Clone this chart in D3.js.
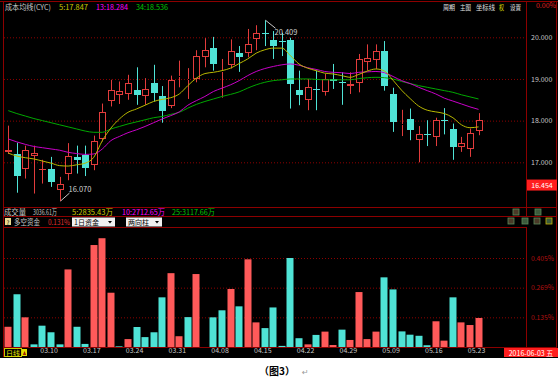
<!DOCTYPE html>
<html>
<head>
<meta charset="utf-8">
<script src="https://cdn.jsdelivr.net/npm/d3@7/dist/d3.min.js"></script>
<style>
  body { margin: 0; background: #fff; }
  svg text { font-family: "Noto Sans CJK SC", "DejaVu Sans", sans-serif; }
</style>
</head>
<body>
<svg id="chart" width="558" height="387"></svg>
<script>
// daily candles
var opens  = [17.25,17.21,16.85,17.15,16.83,16.85,16.33,16.73,17.13,17.18,16.93,17.56,18.46,18.62,18.63,18.74,18.58,18.90,18.59,18.35,
              19.05,18.97,19.00,19.52,19.74,19.16,19.33,19.63,19.63,19.95,20.11,19.94,19.90,19.94,18.74,18.50,18.75,18.68,19.00,18.93,
              18.82,18.90,19.41,19.46,19.67,18.63,17.89,18.03,17.53,17.67,17.60,18.02,17.81,17.37,17.32,17.75];
var highs  = [17.88,17.47,17.40,17.40,17.06,17.13,16.65,17.46,17.40,17.40,17.64,18.41,18.98,18.94,19.10,19.28,19.02,19.34,18.83,19.08,
              19.44,19.26,19.69,19.98,20.01,19.48,19.95,19.79,20.20,20.29,20.409,20.15,20.11,19.99,19.20,19.00,19.20,19.12,19.36,19.16,
              19.16,19.60,19.83,19.83,19.91,18.79,18.26,18.29,17.87,18.01,18.07,18.30,17.93,17.61,17.81,18.18];
var lows   = [17.20,16.27,16.61,16.25,16.49,16.41,16.07,16.57,16.73,16.67,16.81,17.50,18.34,18.40,18.50,18.38,18.38,18.46,17.95,18.30,
              18.80,18.52,18.92,19.28,19.20,18.55,19.25,19.17,19.52,19.69,19.79,19.48,19.55,18.29,18.37,18.25,18.25,18.60,18.76,18.38,
              18.64,18.68,19.20,19.24,18.72,17.73,17.63,17.53,17.00,17.39,17.39,17.67,17.06,17.25,17.13,17.65];
var closes = [17.30,16.67,17.29,17.23,16.84,16.52,16.49,17.15,17.05,16.87,17.50,18.20,18.74,18.70,18.91,18.62,18.75,18.67,18.24,18.98,
              19.07,18.99,19.54,19.69,19.36,19.18,19.66,19.53,19.83,20.10,20.09,19.78,19.88,18.87,18.62,18.80,18.73,19.00,18.94,18.91,
              18.88,19.48,19.50,19.66,18.82,17.96,17.91,17.77,17.69,17.65,18.01,18.00,17.37,17.47,17.71,18.02];

// cost moving averages (成本均线) 5 / 13 / 34
var ma5  = [17.22,17.15,17.11,17.08,17.03,16.98,16.92,16.91,16.94,16.98,17.12,17.52,17.82,18.04,18.20,18.28,18.37,18.46,18.51,18.55,
            18.64,18.84,19.02,19.13,19.16,19.20,19.26,19.37,19.48,19.62,19.70,19.74,19.74,19.56,19.36,19.26,19.20,19.14,19.12,19.08,
            19.04,19.11,19.19,19.24,19.19,18.97,18.73,18.53,18.35,18.25,18.21,18.17,18.07,17.90,17.83,17.85];
var ma13 = [17.56,17.49,17.43,17.38,17.35,17.32,17.29,17.24,17.21,17.19,17.20,17.32,17.52,17.62,17.71,17.78,17.86,17.95,18.04,18.12,
            18.21,18.37,18.48,18.58,18.70,18.78,18.86,18.96,19.08,19.18,19.25,19.30,19.34,19.36,19.33,19.27,19.23,19.18,19.16,19.15,
            19.13,19.16,19.17,19.18,19.15,19.06,18.96,18.89,18.80,18.72,18.64,18.54,18.47,18.40,18.33,18.27];
var ma34 = [18.24,18.17,18.11,18.05,18.00,17.95,17.90,17.85,17.80,17.75,17.72,17.72,17.80,17.86,17.92,17.97,18.02,18.07,18.10,18.15,
            18.20,18.30,18.39,18.46,18.52,18.58,18.63,18.69,18.78,18.86,18.92,18.96,18.98,19.00,19.00,19.00,18.99,18.98,18.98,18.98,
            18.98,19.01,19.03,19.04,19.03,19.00,18.94,18.89,18.84,18.80,18.76,18.72,18.68,18.62,18.57,18.52];

// 多空资金 bars (%), 1 = red (多), 0 = cyan (空)
var fundValues = [0.092,0.240,0.135,0.012,0.097,0.067,0.012,0.353,0.092,0.014,0.464,0.495,0.247,0.003,0.036,0.091,0.045,0.067,0.226,0.336,
                  0.049,0.136,0.332,0.000,0.135,0.167,0.264,0.185,0.399,0.112,0.086,0.180,0.005,0.405,0.040,0.012,0.055,0.070,0.009,0.079,
                  0.032,0.250,0.036,0.070,0.317,0.262,0.071,0.056,0.051,0.008,0.117,0.029,0.226,0.112,0.100,0.132];
var fundSide   = [1,0,1,0,0,0,0,1,0,0,1,1,1,0,1,0,0,0,0,1,
                  1,0,1,0,0,0,1,0,1,1,0,0,0,0,0,1,0,1,1,0,
                  1,1,1,1,0,0,0,0,0,0,1,1,0,1,1,1];

var dateLabels = ["03.10","03.17","03.24","03.31","04.08","04.15","04.22","04.29","05.09","05.16","05.23"];
var dateIndex  = [5,10,15,20,25,30,35,40,45,50,55];
var priceTicks = [17, 18, 19, 20];
var fundTicks  = [0.135, 0.27, 0.405];
var fundTickLabels = ["0.135%", "0.269%", "0.405%"];
var lastPrice = 16.454;

// header readouts: [text, x, width, colour]
var titleItems = [["成本均线(CYC)", 5, 46, "#c8c8c8"], ["5:17.847", 59, 29, "#c8c800"],
                  ["13:18.284", 96, 32, "#ff00ff"], ["34:18.536", 136, 32, "#00c800"]];
var menuItems  = [["周期", 443, 12, "#e0e0e0"], ["主图", 460, 11, "#e0e0e0"], ["坐标线", 476, 19, "#e0e0e0"],
                  ["权", 499, 5, "#e0e000"], ["设置", 510, 11, "#e0e0e0"]];
var volItems   = [["成交量", 4, 22, "#c8c8c8"], ["3036.61万", 33, 24, "#c8c8c8"], ["5:2835.43万", 72, 41, "#c8c800"],
                  ["10:2712.65万", 122, 43, "#ff00ff"], ["25:3117.66万", 172, 43, "#00c800"]];

var RED = "#e23c3c", REDBAR = "#ff5a5a", CYAN = "#4fe3d6", FRAME = "#8c0000";

var svg = d3.select("#chart");

svg.append("rect").attr("x", 0).attr("y", 0).attr("width", 558).attr("height", 358).attr("fill", "#000");

var idx = d3.range(opens.length);
var x = d3.scaleBand().domain(idx).range([4, 4 + 8.55 * idx.length]).padding(0);
function xc(i) { return Math.round(x(i) + x.bandwidth() / 2); }

var y = d3.scaleLinear().domain([17, 20]).range([162.3, 37.3]);
var yf = d3.scaleLinear().domain([0, 0.405]).range([347, 258]);

// ---- grid + axes (main) ----
var gridMain = svg.append("g").attr("transform", "translate(4,0)")
  .call(d3.axisLeft(y).tickValues(priceTicks).tickSize(-522).tickFormat(""));
gridMain.select(".domain").remove();
gridMain.selectAll("line").attr("stroke", FRAME).attr("stroke-dasharray", "1,2");

var pAxis = svg.append("g").attr("transform", "translate(531,0)")
  .call(d3.axisRight(y).tickValues(priceTicks).tickSize(0).tickFormat(d3.format(".3f")));
pAxis.select(".domain").remove();
pAxis.selectAll("text").attr("fill", "#c8c8c8").attr("font-size", 7).attr("x", 0);

// ---- grid + axes (fund panel) ----
var gridF = svg.append("g").attr("transform", "translate(4,0)")
  .call(d3.axisLeft(yf).tickValues(fundTicks).tickSize(-522).tickFormat(""));
gridF.select(".domain").remove();
gridF.selectAll("line").attr("stroke", FRAME).attr("stroke-dasharray", "1,2");

var fAxis = svg.append("g").attr("transform", "translate(531,0)")
  .call(d3.axisRight(yf).tickValues(fundTicks).tickSize(0).tickFormat(function(d, i) { return fundTickLabels[i]; }));
fAxis.select(".domain").remove();
fAxis.selectAll("text").attr("fill", "#b01010").attr("font-size", 7).attr("x", 0)
  .attr("textLength", 23).attr("lengthAdjust", "spacingAndGlyphs");

// ---- candles ----
svg.append("clipPath").attr("id", "mainclip").append("rect")
  .attr("x", 4).attr("y", 2).attr("width", 522).attr("height", 205);
var cg = svg.append("g").attr("clip-path", "url(#mainclip)");

idx.forEach(function(i) {
  var o = opens[i], c = closes[i], up = c >= o;
  var col = up ? RED : CYAN;
  var cx = xc(i) + 0.5;
  var top = Math.round(y(Math.max(o, c))), bot = Math.round(y(Math.min(o, c)));
  var hi = y(highs[i]), lo = y(lows[i]);
  if (bot - top < 1) {
    cg.append("line").attr("x1", cx).attr("x2", cx).attr("y1", hi).attr("y2", lo).attr("stroke", col);
    cg.append("line").attr("x1", cx - 3.5).attr("x2", cx + 3.5).attr("y1", top + 0.5).attr("y2", top + 0.5).attr("stroke", col);
    return;
  }
  cg.append("line").attr("x1", cx).attr("x2", cx).attr("y1", hi).attr("y2", top).attr("stroke", col);
  cg.append("line").attr("x1", cx).attr("x2", cx).attr("y1", bot).attr("y2", lo).attr("stroke", col);
  if (up) {
    cg.append("rect").attr("x", cx - 3).attr("y", top + 0.5).attr("width", 6).attr("height", bot - top - 1)
      .attr("fill", "#000").attr("stroke", col);
  } else {
    cg.append("rect").attr("x", cx - 3.5).attr("y", top).attr("width", 7).attr("height", bot - top).attr("fill", col);
  }
});

// ---- moving averages ----
var line = d3.line().x(function(d, i) { return x(i) + x.bandwidth() / 2; }).y(function(d) { return y(d); })
  .curve(d3.curveMonotoneX);
[[ma34, "#00a800"], [ma13, "#c800c8"], [ma5, "#b8b800"]].forEach(function(s) {
  cg.append("path").attr("d", line(s[0])).attr("fill", "none").attr("stroke", s[1]).attr("stroke-width", 1);
});

// high / low markers
var hiI = d3.maxIndex(highs), loI = d3.minIndex(lows);
var hx = xc(hiI) + 0.5, hy = y(highs[hiI]);
svg.append("line").attr("x1", hx).attr("y1", hy).attr("x2", hx + 10).attr("y2", hy + 8).attr("stroke", "#c8c8c8");
svg.append("text").attr("x", hx + 9).attr("y", hy + 14.5).attr("fill", "#d0d0d0").attr("font-size", 7.5)
  .text(d3.format(".3f")(highs[hiI]));
var lx = xc(loI) + 0.5, ly = y(lows[loI]);
svg.append("line").attr("x1", lx).attr("y1", ly).attr("x2", lx + 9).attr("y2", ly - 8).attr("stroke", "#c8c8c8");
svg.append("text").attr("x", lx + 8).attr("y", ly - 9).attr("fill", "#d0d0d0").attr("font-size", 7.5)
  .text(d3.format(".3f")(lows[loI]));

// ---- fund bars ----
svg.append("g").selectAll("rect").data(fundValues).enter().append("rect")
  .attr("x", function(d, i) { return xc(i) - 3.5; })
  .attr("width", 7)
  .attr("y", function(d) { return yf(d); })
  .attr("height", function(d) { return yf(0) - yf(d); })
  .attr("fill", function(d, i) { return fundSide[i] ? REDBAR : CYAN; });

// ---- frame lines ----
function hline(x1, x2, yy) { svg.append("line").attr("x1", x1).attr("x2", x2).attr("y1", yy).attr("y2", yy).attr("stroke", FRAME); }
function vline(xx, y1, y2) { svg.append("line").attr("x1", xx).attr("x2", xx).attr("y1", y1).attr("y2", y2).attr("stroke", FRAME); }
hline(0, 558, 1.5);
vline(3.5, 1, 357);
vline(556.5, 1, 357);
vline(526.5, 1, 216);
vline(526.5, 227, 347);
hline(3, 557, 207.5);
hline(3, 557, 216.5);
hline(3, 526, 227.5);
hline(3, 557, 347.5);

// date axis
var dAxis = svg.append("g").attr("transform", "translate(0,348)")
  .call(d3.axisBottom(x).tickValues(dateIndex).tickSize(0).tickFormat(function(d, i) { return dateLabels[i]; }));
dAxis.select(".domain").remove();
dAxis.selectAll("text").attr("fill", "#c8c8c8").attr("font-size", 7).attr("dy", "0.55em").attr("y", 1.5)
  .attr("dx", -2);

// ---- header texts ----
function txt(xx, yy, s, col, size, anchor) {
  return svg.append("text").attr("x", xx).attr("y", yy).attr("fill", col).attr("font-size", size || 7.5)
    .attr("text-anchor", anchor || "start").text(s);
}
function fitted(items, yy, size) {
  items.forEach(function(t) {
    txt(t[1], yy, t[0], t[3], size).attr("textLength", t[2]).attr("lengthAdjust", "spacingAndGlyphs");
  });
}
fitted(titleItems, 10, 7.5);
fitted(menuItems, 10, 6.5);
fitted(volItems, 215, 7.5);
txt(556, 8, "0.00%", "#e02020", 7, "end");

// last price box
svg.append("rect").attr("x", 527).attr("y", y(lastPrice) - 5.5).attr("width", 30).attr("height", 11).attr("fill", "#ff1e1e");
txt(542, y(lastPrice) + 3, lastPrice.toFixed(3), "#fff", 7, "middle");

// fund row
svg.append("rect").attr("x", 5).attr("y", 218).attr("width", 6).attr("height", 7).attr("fill", "#e8d890");
txt(8, 224.5, "?", "#000", 6, "middle");
txt(14, 225, "多空资金", "#c8c8c8").attr("textLength", 26).attr("lengthAdjust", "spacingAndGlyphs");
txt(48, 225, "0.131%", "#e03030").attr("textLength", 22).attr("lengthAdjust", "spacingAndGlyphs");
[[72, 43, "1日资金"], [126, 36, "两向柱"]].forEach(function(b) {
  svg.append("rect").attr("x", b[0]).attr("y", 217.5).attr("width", b[1]).attr("height", 9).attr("fill", "#f0f0f0");
  txt(b[0] + 2, 225, b[2], "#000", 7);
  svg.append("path").attr("d", "M" + (b[0] + b[1] - 7) + ",221 l4,0 l-2,2.5 z").attr("fill", "#000");
});

// small toolbar icons
[[513, 209], [535, 209], [508, 218], [522, 218], [534, 218], [546, 218]].forEach(function(p, k) {
  svg.append("rect").attr("x", p[0]).attr("y", p[1]).attr("width", 6).attr("height", 6)
    .attr("fill", k % 2 ? "#3c5a3c" : "#4a3a28").attr("stroke", k === 5 ? "#c8b400" : "#5a8a5a").attr("stroke-width", 0.8);
});

// bottom left 日线 label
svg.append("rect").attr("x", 4.5).attr("y", 348.5).attr("width", 17).attr("height", 8).attr("fill", "none").attr("stroke", "#c8c800");
txt(6, 355.5, "日线", "#e0e000", 7);
svg.append("rect").attr("x", 22).attr("y", 349).attr("width", 5).attr("height", 7).attr("fill", "#e0e000");
svg.append("path").attr("d", "M22.8,355 l1.7,-4 l1.7,4 z").attr("fill", "#a02000");

// date box
svg.append("rect").attr("x", 504).attr("y", 348).attr("width", 54).attr("height", 9).attr("fill", "#ff1e1e");
txt(531, 355.5, "2016-06-03 五", "#fff", 7, "middle");

// caption
txt(277, 375, "（图3）", "#000", 10, "middle").attr("font-weight", "bold");
txt(302, 375, "↵", "#999", 8);
</script>
</body>
</html>
